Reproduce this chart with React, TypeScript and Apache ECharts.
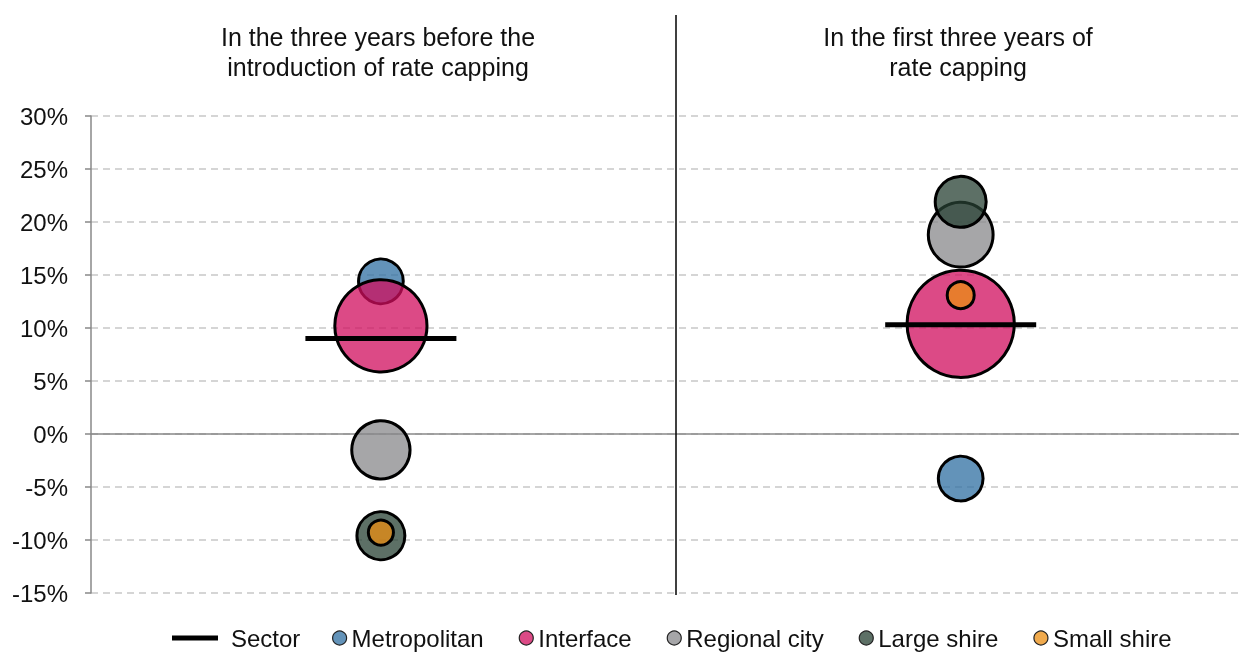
import React, { useEffect, useRef } from "react";
import * as echarts from "echarts";

// Period positions on a hidden value axis
const periods = ["In the three years before the\nintroduction of rate capping", "In the first three years of\nrate capping"];
const periodX = [1, 3];

// Y axis ticks
const yMin = -15;
const yMax = 30;
const yStep = 5;

// Average rate change (%) per group for each period
const sector = [9.0, 10.3];
const metropolitan = [14.4, -4.2];
const interfaceVals = [10.2, 10.4];
const regionalCity = [-1.5, 18.8];
const largeShire = [-9.6, 21.9];
const smallShire = [-9.3, 13.1];

// Bubble weights (relative size) per period
const metropolitanSize = [20, 20];
const interfaceSize = [85, 115];
const regionalCitySize = [34, 42];
const largeShireSize = [23, 26];
const smallShireSize = [6.3, 7.3];

const FONT = "'Liberation Sans', Arial, sans-serif";

export default function App() {
  const ref = useRef<HTMLDivElement>(null);
  useEffect(() => {
    if (!ref.current) return;
    const chart = echarts.init(ref.current, null, { renderer: "svg" });
    const bubble = (name: string, vals: number[], sizes: number[], color: string) => ({
      name,
      type: "scatter",
      data: vals.map((v, i) => [periodX[i], v, sizes[i]]),
      symbol: "circle",
      symbolSize: (d: number[]) => Math.sqrt(d[2]) * 10,
      itemStyle: { color, borderColor: "#000", borderWidth: 3, opacity: 1 },
      emphasis: { disabled: true },
    });
    chart.setOption({
      animation: false,
      textStyle: { fontFamily: FONT },
      grid: { left: 91, top: 116, right: 0, bottom: 60 },
      xAxis: {
        type: "value",
        min: 0,
        max: 3.96,
        axisLine: { show: true, onZero: true, lineStyle: { color: "#888", width: 1.5 } },
        axisTick: { show: false },
        axisLabel: { show: false },
        splitLine: { show: false },
      },
      yAxis: {
        type: "value",
        min: yMin,
        max: yMax,
        interval: yStep,
        axisLine: { show: true, lineStyle: { color: "#888", width: 1.5 } },
        axisTick: { show: true, length: 6, lineStyle: { color: "#888", width: 1.5 } },
        axisLabel: { formatter: "{value}%", fontSize: 24, color: "#111", margin: 23, fontFamily: FONT },
        splitLine: { show: true, lineStyle: { color: "#c8c8c8", type: [7, 5], width: 1.5 } },
      },
      legend: [
        {
          data: [{ name: "Sector", icon: "rect" }],
          left: 167,
          top: 621,
          itemWidth: 46,
          itemHeight: 5,
          textStyle: { fontSize: 24, lineHeight: 24, color: "#111", fontFamily: FONT, padding: [0, 0, 0, 8] },
          itemStyle: { color: "#000", borderWidth: 0, opacity: 1 },
          selectedMode: false,
        },
        {
          data: ["Metropolitan", "Interface", "Regional city", "Large shire", "Small shire"].map((n) => ({ name: n, icon: "circle" })),
          left: 327,
          top: 621,
          itemWidth: 14,
          itemHeight: 14,
          itemGap: 35,
          textStyle: { fontSize: 24, lineHeight: 24, color: "#111", fontFamily: FONT },
          itemStyle: { borderColor: "#222", borderWidth: 1.2 },
          selectedMode: false,
        },
      ],
      graphic: [
        {
          type: "line",
          shape: { x1: 676, y1: 15, x2: 676, y2: 595 },
          style: { stroke: "#000", lineWidth: 1.5 },
          z: 10,
        },
        {
          type: "text",
          x: 378,
          y: 22,
          style: {
            text: periods[0],
            textAlign: "center",
            textVerticalAlign: "top",
            fontSize: 25,
            lineHeight: 30,
            fill: "#111",
            fontFamily: FONT,
          },
        },
        {
          type: "text",
          x: 958,
          y: 22,
          style: {
            text: periods[1],
            textAlign: "center",
            textVerticalAlign: "top",
            fontSize: 25,
            lineHeight: 30,
            fill: "#111",
            fontFamily: FONT,
          },
        },
      ],
      series: [
        bubble("Metropolitan", metropolitan, metropolitanSize, "rgba(47,111,162,0.75)"),
        bubble("Interface", interfaceVals, interfaceSize, "rgba(208,13,93,0.75)"),
        bubble("Regional city", regionalCity, regionalCitySize, "rgba(136,136,139,0.75)"),
        bubble("Large shire", largeShire, largeShireSize, "rgba(39,64,51,0.75)"),
        bubble("Small shire", smallShire, smallShireSize, "rgba(235,142,18,0.75)"),
        {
          name: "Sector",
          type: "scatter",
          data: sector.map((v, i) => [periodX[i], v]),
          symbol: "rect",
          symbolSize: [151, 5],
          itemStyle: { color: "#000", opacity: 1 },
          emphasis: { disabled: true },
          z: 5,
        },
      ],
    });
    return () => chart.dispose();
  }, []);
  return <div ref={ref} style={{ position: "fixed", left: 0, top: 0, width: 1239, height: 653 }} />;
}
